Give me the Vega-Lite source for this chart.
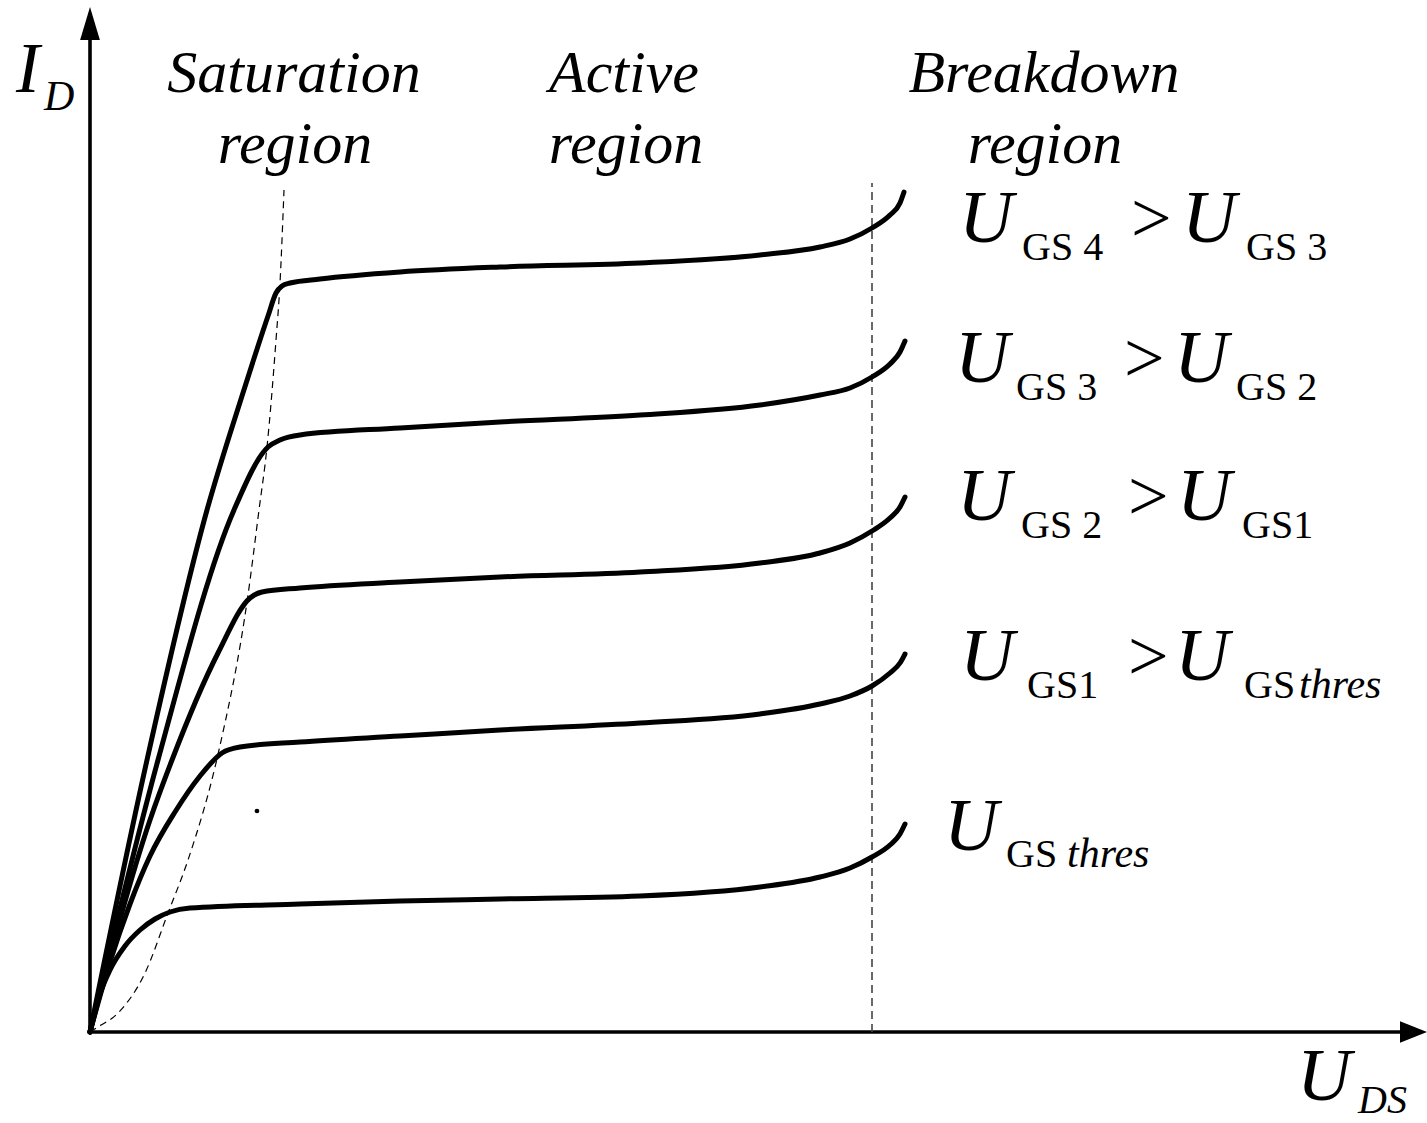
{
  "$schema": "https://vega.github.io/schema/vega-lite/v6.json",
  "width": 1427,
  "height": 1123,
  "autosize": {"type": "none"},
  "padding": 0,
  "background": "white",
  "config": {"view": {"stroke": null}, "text": {"font": "Liberation Serif"}},
  "encoding": {
    "x": {"field": "x", "type": "quantitative", "scale": {"domain": [-90, 1337], "nice": false, "zero": false}, "axis": null},
    "y": {"field": "y", "type": "quantitative", "scale": {"domain": [-91, 1032], "nice": false, "zero": false}, "axis": null}
  },
  "layer": [
    {
      "data": {"values": [{"x": 0, "y": 0, "x2": 0, "y2": 992}, {"x": 0, "y": 0, "x2": 1310, "y2": 0}]},
      "mark": {"type": "rule", "color": "black", "strokeWidth": 3.6},
      "encoding": {"x2": {"field": "x2"}, "y2": {"field": "y2"}}
    },
    {
      "data": {"values": [{"x": 0, "y": 1008.5}]},
      "mark": {"type": "point", "shape": "M0,-1L0.6,1L-0.6,1Z", "size": 1089, "filled": true, "color": "black", "opacity": 1, "strokeWidth": 0}
    },
    {
      "data": {"values": [{"x": 1323.5, "y": 0}]},
      "mark": {"type": "point", "shape": "M1,0L-1,-0.8L-1,0.8Z", "size": 729, "filled": true, "color": "black", "opacity": 1, "strokeWidth": 0}
    },
    {
      "data": {"values": [{"x": 782, "y": 0, "y2": 849}]},
      "mark": {"type": "rule", "color": "#444444", "strokeWidth": 1.6, "strokeDash": [8, 5]},
      "encoding": {"y2": {"field": "y2"}}
    },
    {
      "data": {"values": [
        {"x": 0, "y": 0}, {"x": 8, "y": 5}, {"x": 28, "y": 19}, {"x": 55, "y": 59}, {"x": 78, "y": 119},
        {"x": 98, "y": 172}, {"x": 129, "y": 282}, {"x": 158, "y": 437}, {"x": 169, "y": 522},
        {"x": 177, "y": 585}, {"x": 186, "y": 692}, {"x": 190, "y": 749}, {"x": 194, "y": 842}
      ]},
      "mark": {"type": "line", "color": "black", "strokeWidth": 1.2, "strokeDash": [7, 5], "interpolate": "monotone"}
    },
    {
      "data": {"values": [
        {"curve": "GS4", "x": 0, "y": 0}, {"curve": "GS4", "x": 57, "y": 272}, {"curve": "GS4", "x": 117, "y": 522}, {"curve": "GS4", "x": 152, "y": 636}, {"curve": "GS4", "x": 178, "y": 716}, {"curve": "GS4", "x": 186, "y": 739}, {"curve": "GS4", "x": 192, "y": 746}, {"curve": "GS4", "x": 200, "y": 749}, {"curve": "GS4", "x": 230, "y": 753}, {"curve": "GS4", "x": 310, "y": 760}, {"curve": "GS4", "x": 410, "y": 765}, {"curve": "GS4", "x": 550, "y": 769}, {"curve": "GS4", "x": 670, "y": 777}, {"curve": "GS4", "x": 730, "y": 785}, {"curve": "GS4", "x": 760, "y": 793}, {"curve": "GS4", "x": 782, "y": 804}, {"curve": "GS4", "x": 800, "y": 817}, {"curve": "GS4", "x": 810, "y": 829}, {"curve": "GS4", "x": 814, "y": 840},
        {"curve": "GS3", "x": 0, "y": 0}, {"curve": "GS3", "x": 68, "y": 272}, {"curve": "GS3", "x": 144, "y": 522}, {"curve": "GS3", "x": 178, "y": 585}, {"curve": "GS3", "x": 190, "y": 592}, {"curve": "GS3", "x": 210, "y": 597}, {"curve": "GS3", "x": 310, "y": 604}, {"curve": "GS3", "x": 410, "y": 610}, {"curve": "GS3", "x": 550, "y": 617}, {"curve": "GS3", "x": 670, "y": 627}, {"curve": "GS3", "x": 730, "y": 637}, {"curve": "GS3", "x": 760, "y": 644}, {"curve": "GS3", "x": 782, "y": 655}, {"curve": "GS3", "x": 800, "y": 668}, {"curve": "GS3", "x": 810, "y": 680}, {"curve": "GS3", "x": 815, "y": 691},
        {"curve": "GS2", "x": 0, "y": 0}, {"curve": "GS2", "x": 60, "y": 212}, {"curve": "GS2", "x": 82, "y": 272}, {"curve": "GS2", "x": 128, "y": 379}, {"curve": "GS2", "x": 160, "y": 434}, {"curve": "GS2", "x": 172, "y": 440}, {"curve": "GS2", "x": 210, "y": 444}, {"curve": "GS2", "x": 310, "y": 450}, {"curve": "GS2", "x": 410, "y": 455}, {"curve": "GS2", "x": 550, "y": 460}, {"curve": "GS2", "x": 670, "y": 469}, {"curve": "GS2", "x": 730, "y": 479}, {"curve": "GS2", "x": 760, "y": 489}, {"curve": "GS2", "x": 782, "y": 501}, {"curve": "GS2", "x": 800, "y": 514}, {"curve": "GS2", "x": 810, "y": 525}, {"curve": "GS2", "x": 815, "y": 535},
        {"curve": "GS1", "x": 0, "y": 0}, {"curve": "GS1", "x": 20, "y": 70}, {"curve": "GS1", "x": 40, "y": 128}, {"curve": "GS1", "x": 60, "y": 176}, {"curve": "GS1", "x": 85, "y": 220}, {"curve": "GS1", "x": 110, "y": 256}, {"curve": "GS1", "x": 132, "y": 279}, {"curve": "GS1", "x": 150, "y": 285}, {"curve": "GS1", "x": 210, "y": 290}, {"curve": "GS1", "x": 310, "y": 296}, {"curve": "GS1", "x": 410, "y": 302}, {"curve": "GS1", "x": 550, "y": 309}, {"curve": "GS1", "x": 670, "y": 318}, {"curve": "GS1", "x": 730, "y": 328}, {"curve": "GS1", "x": 760, "y": 336}, {"curve": "GS1", "x": 782, "y": 346}, {"curve": "GS1", "x": 800, "y": 359}, {"curve": "GS1", "x": 810, "y": 369}, {"curve": "GS1", "x": 815, "y": 378},
        {"curve": "GSthres", "x": 0, "y": 0}, {"curve": "GSthres", "x": 8, "y": 32}, {"curve": "GSthres", "x": 20, "y": 62}, {"curve": "GSthres", "x": 35, "y": 86}, {"curve": "GSthres", "x": 50, "y": 102}, {"curve": "GSthres", "x": 65, "y": 113}, {"curve": "GSthres", "x": 80, "y": 120}, {"curve": "GSthres", "x": 100, "y": 124}, {"curve": "GSthres", "x": 210, "y": 128}, {"curve": "GSthres", "x": 310, "y": 131}, {"curve": "GSthres", "x": 410, "y": 133}, {"curve": "GSthres", "x": 550, "y": 136}, {"curve": "GSthres", "x": 670, "y": 145}, {"curve": "GSthres", "x": 730, "y": 155}, {"curve": "GSthres", "x": 760, "y": 164}, {"curve": "GSthres", "x": 782, "y": 175}, {"curve": "GSthres", "x": 800, "y": 187}, {"curve": "GSthres", "x": 810, "y": 198}, {"curve": "GSthres", "x": 815, "y": 208}
      ]},
      "mark": {"type": "line", "color": "black", "strokeWidth": 5, "strokeCap": "round", "strokeJoin": "round", "interpolate": "monotone"},
      "encoding": {"detail": {"field": "curve", "type": "nominal"}}
    },
    {
      "data": {"values": [{"x": 167, "y": 221}]},
      "mark": {"type": "point", "shape": "circle", "size": 22, "filled": true, "color": "black", "opacity": 1}
    },
    {
      "data": {"values": [
        {"x": 204, "y": 940, "t": "Saturation"}, {"x": 205, "y": 869, "t": "region"},
        {"x": 534, "y": 940, "t": "Active"}, {"x": 536, "y": 869, "t": "region"},
        {"x": 954, "y": 940, "t": "Breakdown"}, {"x": 955, "y": 869, "t": "region"}
      ]},
      "mark": {"type": "text", "fontStyle": "italic", "fontSize": 60, "align": "center", "baseline": "alphabetic", "color": "black"},
      "encoding": {"text": {"field": "t", "type": "nominal"}}
    },
    {
      "data": {"values": [{"x": -74, "y": 940, "t": "I"}]},
      "mark": {"type": "text", "fontStyle": "italic", "fontSize": 71, "align": "left", "baseline": "alphabetic", "color": "black"},
      "encoding": {"text": {"field": "t", "type": "nominal"}}
    },
    {
      "data": {"values": [
        {"x": 869, "y": 790, "t": "U"}, {"x": 1092, "y": 790, "t": "U"},
        {"x": 865, "y": 650, "t": "U"}, {"x": 1084, "y": 650, "t": "U"},
        {"x": 867, "y": 512, "t": "U"}, {"x": 1087, "y": 512, "t": "U"},
        {"x": 870, "y": 352, "t": "U"}, {"x": 1085, "y": 352, "t": "U"},
        {"x": 854, "y": 182, "t": "U"},
        {"x": 1207, "y": -68, "t": "U"}
      ]},
      "mark": {"type": "text", "fontStyle": "italic", "fontSize": 75, "align": "left", "baseline": "alphabetic", "color": "black"},
      "encoding": {"text": {"field": "t", "type": "nominal"}}
    },
    {
      "data": {"values": [
        {"x": 1041, "y": 790, "t": ">"}, {"x": 1034, "y": 650, "t": ">"},
        {"x": 1038, "y": 512, "t": ">"}, {"x": 1038, "y": 352, "t": ">"}
      ]},
      "mark": {"type": "text", "fontSize": 72, "align": "left", "baseline": "alphabetic", "color": "black"},
      "encoding": {"text": {"field": "t", "type": "nominal"}}
    },
    {
      "data": {"values": [
        {"x": 932, "y": 772, "t": "GS 4"}, {"x": 1156, "y": 772, "t": "GS 3"},
        {"x": 926, "y": 632, "t": "GS 3"}, {"x": 1146, "y": 632, "t": "GS 2"},
        {"x": 931, "y": 494, "t": "GS 2"}, {"x": 1152, "y": 494, "t": "GS1"},
        {"x": 937, "y": 334, "t": "GS1"}, {"x": 1154, "y": 334, "t": "GS"},
        {"x": 916, "y": 165, "t": "GS"}
      ]},
      "mark": {"type": "text", "fontSize": 40, "align": "left", "baseline": "alphabetic", "color": "black"},
      "encoding": {"text": {"field": "t", "type": "nominal"}}
    },
    {
      "data": {"values": [
        {"x": 1209, "y": 334, "t": "thres"}, {"x": 977, "y": 165, "t": "thres"}
      ]},
      "mark": {"type": "text", "fontStyle": "italic", "fontSize": 42, "align": "left", "baseline": "alphabetic", "color": "black"},
      "encoding": {"text": {"field": "t", "type": "nominal"}}
    },
    {
      "data": {"values": [{"x": 1268, "y": -81, "t": "DS"}]},
      "mark": {"type": "text", "fontStyle": "italic", "fontSize": 40, "align": "left", "baseline": "alphabetic", "color": "black"},
      "encoding": {"text": {"field": "t", "type": "nominal"}}
    },
    {
      "data": {"values": [{"x": -46, "y": 922, "t": "D"}]},
      "mark": {"type": "text", "fontStyle": "italic", "fontSize": 42, "align": "left", "baseline": "alphabetic", "color": "black"},
      "encoding": {"text": {"field": "t", "type": "nominal"}}
    }
  ]
}
